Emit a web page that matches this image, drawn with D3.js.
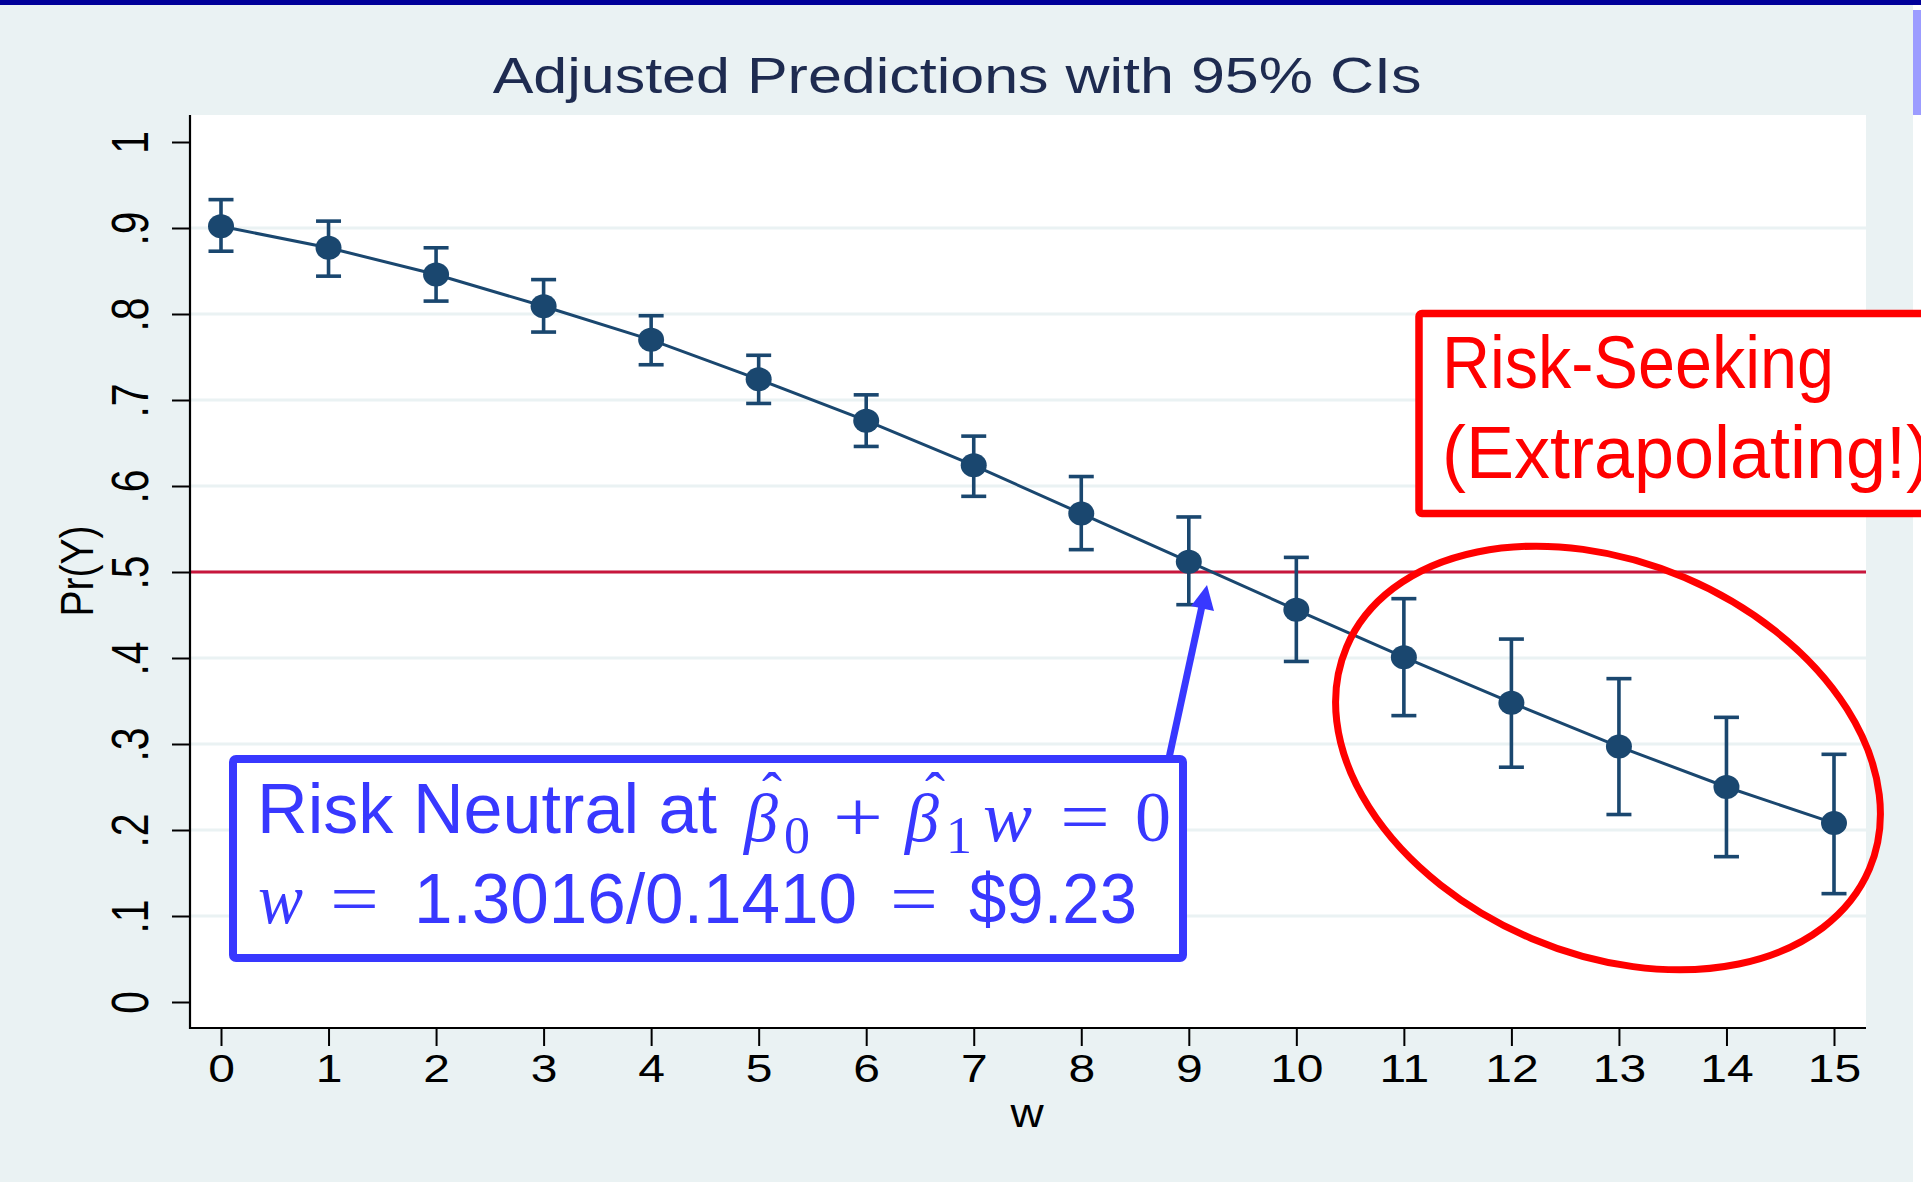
<!DOCTYPE html>
<html>
<head>
<meta charset="utf-8">
<script src="https://cdn.jsdelivr.net/npm/d3@7"></script>
<style>
  body { margin: 0; background: #ffffff; }
  svg { display: block; }
</style>
</head>
<body>
<script>

// data
var wVals = [0, 1, 2, 3, 4, 5, 6, 7, 8, 9, 10, 11, 12, 13, 14, 15];
var prY   = [0.902, 0.877, 0.846, 0.809, 0.770, 0.724, 0.676, 0.624, 0.568, 0.512, 0.456, 0.401, 0.348, 0.297, 0.250, 0.208];
var ciHi  = [0.933, 0.908, 0.877, 0.840, 0.798, 0.752, 0.706, 0.658, 0.611, 0.564, 0.517, 0.469, 0.422, 0.376, 0.331, 0.288];
var ciLo  = [0.873, 0.844, 0.815, 0.779, 0.741, 0.696, 0.646, 0.588, 0.526, 0.462, 0.396, 0.333, 0.273, 0.218, 0.169, 0.126];

var yTicks  = [0, 0.1, 0.2, 0.3, 0.4, 0.5, 0.6, 0.7, 0.8, 0.9, 1];
var yLabels = ["0", ".1", ".2", ".3", ".4", ".5", ".6", ".7", ".8", ".9", "1"];
var yGrid   = [0.1, 0.2, 0.3, 0.4, 0.5, 0.6, 0.7, 0.8, 0.9];
var refLine = 0.5;

var titleText = "Adjusted Predictions with 95% CIs";
var xTitle = "w";
var yTitle = "Pr(Y)";

var width = 1921,
    height = 1182;

var navy = "#1a476f",
    stataBg = "#eaf2f3",
    blue = "#3838ff",
    red = "#ff0000";

var plot = {left: 190, right: 1866, top: 115, bottom: 1028};

var svg = d3.select("body").append("svg")
    .attr("width", width)
    .attr("height", height);

// page furniture: slide bar on top, graph region
svg.append("rect").attr("x", 0).attr("y", 0).attr("width", width).attr("height", height).attr("fill", "#ffffff");
svg.append("rect").attr("x", 0).attr("y", 5).attr("width", 1913).attr("height", height - 5).attr("fill", stataBg);
svg.append("rect").attr("x", 1913).attr("y", 10).attr("width", 8).attr("height", 105).attr("fill", "#9c9cff");
svg.append("rect").attr("x", 0).attr("y", 0).attr("width", width).attr("height", 5).attr("fill", "#000099");

var x = d3.scaleLinear().domain([0, 15]).range([221, 1834]);
var y = d3.scaleLinear().domain([0, 1]).range([1002, 142]);

// plot region
svg.append("rect")
    .attr("x", plot.left).attr("y", plot.top)
    .attr("width", plot.right - plot.left).attr("height", plot.bottom - plot.top)
    .attr("fill", "#ffffff");

svg.append("g").selectAll("line")
    .data(yGrid)
    .enter().append("line")
    .attr("x1", plot.left).attr("x2", plot.right)
    .attr("y1", d => y(d)).attr("y2", d => y(d))
    .attr("stroke", stataBg)
    .attr("stroke-width", 3);

svg.append("line")
    .attr("x1", plot.left).attr("x2", plot.right)
    .attr("y1", y(refLine)).attr("y2", y(refLine))
    .attr("stroke", "#c8163c")
    .attr("stroke-width", 2.8);

var pts = wVals.map((w, i) => ({w: w, p: prY[i], lo: ciLo[i], hi: ciHi[i]}));

svg.append("path")
    .datum(pts)
    .attr("fill", "none")
    .attr("stroke", navy)
    .attr("stroke-width", 3)
    .attr("d", d3.line().x(d => x(d.w)).y(d => y(d.p)));

var bars = svg.append("g")
    .attr("stroke", navy)
    .attr("stroke-width", 3.6);

bars.selectAll(".ci")
    .data(pts)
    .enter().append("line")
    .attr("class", "ci")
    .attr("x1", d => x(d.w)).attr("x2", d => x(d.w))
    .attr("y1", d => y(d.lo)).attr("y2", d => y(d.hi));

bars.selectAll(".caphi")
    .data(pts)
    .enter().append("line")
    .attr("class", "caphi")
    .attr("x1", d => x(d.w) - 12.5).attr("x2", d => x(d.w) + 12.5)
    .attr("y1", d => y(d.hi)).attr("y2", d => y(d.hi));

bars.selectAll(".caplo")
    .data(pts)
    .enter().append("line")
    .attr("class", "caplo")
    .attr("x1", d => x(d.w) - 12.5).attr("x2", d => x(d.w) + 12.5)
    .attr("y1", d => y(d.lo)).attr("y2", d => y(d.lo));

svg.append("g").selectAll("ellipse")
    .data(pts)
    .enter().append("ellipse")
    .attr("cx", d => x(d.w))
    .attr("cy", d => y(d.p))
    .attr("rx", 13)
    .attr("ry", 12)
    .attr("fill", navy);

// axes
var xAxis = d3.axisBottom(x).tickValues(wVals).tickSize(18).tickFormat(d3.format("d"));
var gx = svg.append("g")
    .attr("transform", "translate(0," + plot.bottom + ")")
    .call(xAxis);
gx.select(".domain").remove();
gx.selectAll(".tick line").attr("stroke", "#000").attr("stroke-width", 2);
gx.selectAll(".tick text").remove();
gx.selectAll(".tick").append("text")
    .attr("transform", "translate(0,54) scale(1,0.8)")
    .attr("text-anchor", "middle")
    .attr("fill", "#000")
    .style("font-family", "'Liberation Sans', Arial, sans-serif")
    .style("font-size", "48px")
    .text(d => d);

var yAxis = d3.axisLeft(y).tickValues(yTicks).tickSize(18).tickFormat((d, i) => yLabels[i]);
var gy = svg.append("g")
    .attr("transform", "translate(" + plot.left + ",0)")
    .call(yAxis);
gy.select(".domain").remove();
gy.selectAll(".tick line").attr("stroke", "#000").attr("stroke-width", 2);
gy.selectAll(".tick text").remove();
gy.selectAll(".tick").append("text")
    .attr("transform", "translate(-42,0) rotate(-90) scale(0.8,1)")
    .attr("text-anchor", "middle")
    .attr("fill", "#000")
    .style("font-family", "'Liberation Sans', Arial, sans-serif")
    .style("font-size", "51px")
    .text((d, i) => yLabels[i]);

svg.append("line")
    .attr("x1", plot.left).attr("x2", plot.left)
    .attr("y1", plot.top).attr("y2", plot.bottom + 1)
    .attr("stroke", "#000").attr("stroke-width", 2.2);
svg.append("line")
    .attr("x1", plot.left - 1).attr("x2", plot.right)
    .attr("y1", plot.bottom).attr("y2", plot.bottom)
    .attr("stroke", "#000").attr("stroke-width", 2.2);

// titles
svg.append("text")
    .attr("transform", "translate(957,93) scale(1,0.82)")
    .attr("text-anchor", "middle")
    .attr("fill", "#1e2b50")
    .style("font-family", "'Liberation Sans', Arial, sans-serif")
    .style("font-size", "61px")
    .text(titleText);

svg.append("text")
    .attr("transform", "translate(1027,1127) scale(1,0.9)")
    .attr("text-anchor", "middle")
    .attr("fill", "#000")
    .style("font-family", "'Liberation Sans', Arial, sans-serif")
    .style("font-size", "46px")
    .text(xTitle);

svg.append("text")
    .attr("transform", "translate(93,571) rotate(-90) scale(0.85,1)")
    .attr("text-anchor", "middle")
    .attr("fill", "#000")
    .style("font-family", "'Liberation Sans', Arial, sans-serif")
    .style("font-size", "46px")
    .text(yTitle);

// annotations
function put(g, str, px, py, o) {
    var t = g.append("text")
        .attr("x", px).attr("y", py)
        .attr("fill", o.color)
        .style("font-family", o.family)
        .style("font-size", o.size + "px")
        .style("font-style", o.italic ? "italic" : "normal")
        .text(str);
    if (o.anchor) t.attr("text-anchor", o.anchor);
    if (o.len) t.attr("textLength", o.len).attr("lengthAdjust", "spacingAndGlyphs");
    return t;
}

var sans = "'Liberation Sans', Arial, sans-serif",
    serif = "'Liberation Serif', 'Times New Roman', serif";

// red ellipse round the extrapolated points
svg.append("ellipse")
    .attr("cx", 0).attr("cy", 0)
    .attr("rx", 284).attr("ry", 196)
    .attr("transform", "translate(1608,758) rotate(23)")
    .attr("fill", "none")
    .attr("stroke", red)
    .attr("stroke-width", 7);

// red box
var rg = svg.append("g");
rg.append("rect")
    .attr("x", 1419).attr("y", 313.5)
    .attr("width", 600).attr("height", 200)
    .attr("rx", 3)
    .attr("fill", "#ffffff")
    .attr("stroke", red)
    .attr("stroke-width", 7.5);
put(rg, "Risk-Seeking", 1442, 388, {color: red, family: sans, size: 74, len: 392});
put(rg, "(Extrapolating!)", 1442, 478, {color: red, family: sans, size: 74, len: 488});

// blue arrow to the crossing point
svg.append("line")
    .attr("x1", 1169).attr("y1", 758)
    .attr("x2", 1202).attr("y2", 606)
    .attr("stroke", blue)
    .attr("stroke-width", 7);
svg.append("path")
    .attr("d", "M1207,585 L1191,606 L1214,611 Z")
    .attr("fill", blue);

// blue box
var bg = svg.append("g");
bg.append("rect")
    .attr("x", 233).attr("y", 759)
    .attr("width", 950).attr("height", 199)
    .attr("rx", 3)
    .attr("fill", "#ffffff")
    .attr("stroke", blue)
    .attr("stroke-width", 8);

var b1 = 841, b2 = 923;
put(bg, "Risk Neutral at", 257, 833, {color: blue, family: sans, size: 71, len: 460});
put(bg, "\u03B2", 744, b1, {color: blue, family: serif, size: 68, italic: true});
put(bg, "\u02C6", 772, 813, {color: blue, family: serif, size: 60, anchor: "middle"});
put(bg, "0", 784, 853, {color: blue, family: serif, size: 52});
put(bg, "+", 833, b1, {color: blue, family: serif, size: 72, len: 50});
put(bg, "\u03B2", 905, b1, {color: blue, family: serif, size: 68, italic: true});
put(bg, "\u02C6", 935, 813, {color: blue, family: serif, size: 60, anchor: "middle"});
put(bg, "1", 946, 853, {color: blue, family: serif, size: 52});
put(bg, "w", 983, b1, {color: blue, family: serif, size: 72, italic: true, len: 49});
put(bg, "=", 1060, b1, {color: blue, family: serif, size: 72, len: 50});
put(bg, "0", 1135, b1, {color: blue, family: serif, size: 72});

put(bg, "w", 258, b2, {color: blue, family: serif, size: 72, italic: true, len: 45});
put(bg, "=", 330, b2, {color: blue, family: serif, size: 72, len: 49});
put(bg, "1.3016/0.1410", 414, b2, {color: blue, family: sans, size: 71, len: 443});
put(bg, "=", 890, b2, {color: blue, family: serif, size: 72, len: 48});
put(bg, "$9.23", 969, b2, {color: blue, family: sans, size: 71, len: 168});

</script>
</body>
</html>
